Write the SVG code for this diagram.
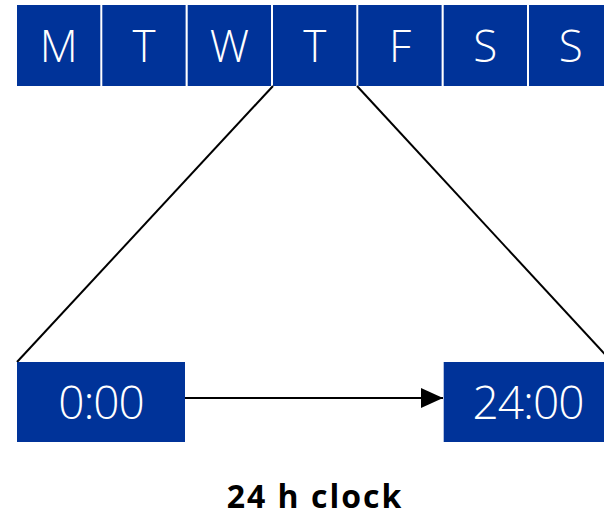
<svg xmlns="http://www.w3.org/2000/svg" width="604" height="519" viewBox="0 0 604 519">
<defs>
<style>
.box{fill:#003399;}
.lbl{fill:#ffffff;font-family:"Open Sans","Noto Sans","DejaVu Sans",sans-serif;font-weight:300;text-anchor:middle;}
.day{font-size:44px;}
.time{font-size:46px;letter-spacing:-1px;}
.conn{stroke:#000;stroke-width:2;fill:none;}
.cap{fill:#000;font-family:"Open Sans","Noto Sans","DejaVu Sans",sans-serif;font-weight:700;font-size:32px;letter-spacing:2px;text-anchor:middle;}
</style>
<marker id="ah" markerWidth="22" markerHeight="20" refX="22" refY="10" orient="auto" markerUnits="userSpaceOnUse">
<path d="M0,0 L22,10 L0,20 Z" fill="#000"/>
</marker>
</defs>
<g id="connectors">
<line class="conn" x1="273" y1="86" x2="17" y2="362"/>
<line class="conn" x1="357" y1="86" x2="612" y2="362"/>
<line class="conn" x1="185" y1="398" x2="443" y2="398" marker-end="url(#ah)"/>
</g>
<g id="day-mon"><rect class="box" x="17" y="5" width="83.3" height="81"/><text class="lbl day" x="58.7" y="62">M</text></g>
<g id="day-tue"><rect class="box" x="102.3" y="5" width="83.3" height="81"/><text class="lbl day" x="144" y="62">T</text></g>
<g id="day-wed"><rect class="box" x="187.7" y="5" width="83.3" height="81"/><text class="lbl day" x="229.3" y="62">W</text></g>
<g id="day-thu"><rect class="box" x="273" y="5" width="83.3" height="81"/><text class="lbl day" x="314.7" y="62">T</text></g>
<g id="day-fri"><rect class="box" x="358.3" y="5" width="83.3" height="81"/><text class="lbl day" x="400" y="62">F</text></g>
<g id="day-sat"><rect class="box" x="443.7" y="5" width="83.3" height="81"/><text class="lbl day" x="485.3" y="62">S</text></g>
<g id="day-sun"><rect class="box" x="529" y="5" width="83.3" height="81"/><text class="lbl day" x="570.7" y="62">S</text></g>
<g id="start"><rect class="box" x="17" y="362" width="168" height="80"/><text class="lbl time" x="101" y="419">0:00</text></g>
<g id="end"><rect class="box" x="443.7" y="362" width="168" height="80"/><text class="lbl time" x="528" y="419">24:00</text></g>
<g id="caption"><text class="cap" x="315" y="508">24 h clock</text></g>
</svg>
